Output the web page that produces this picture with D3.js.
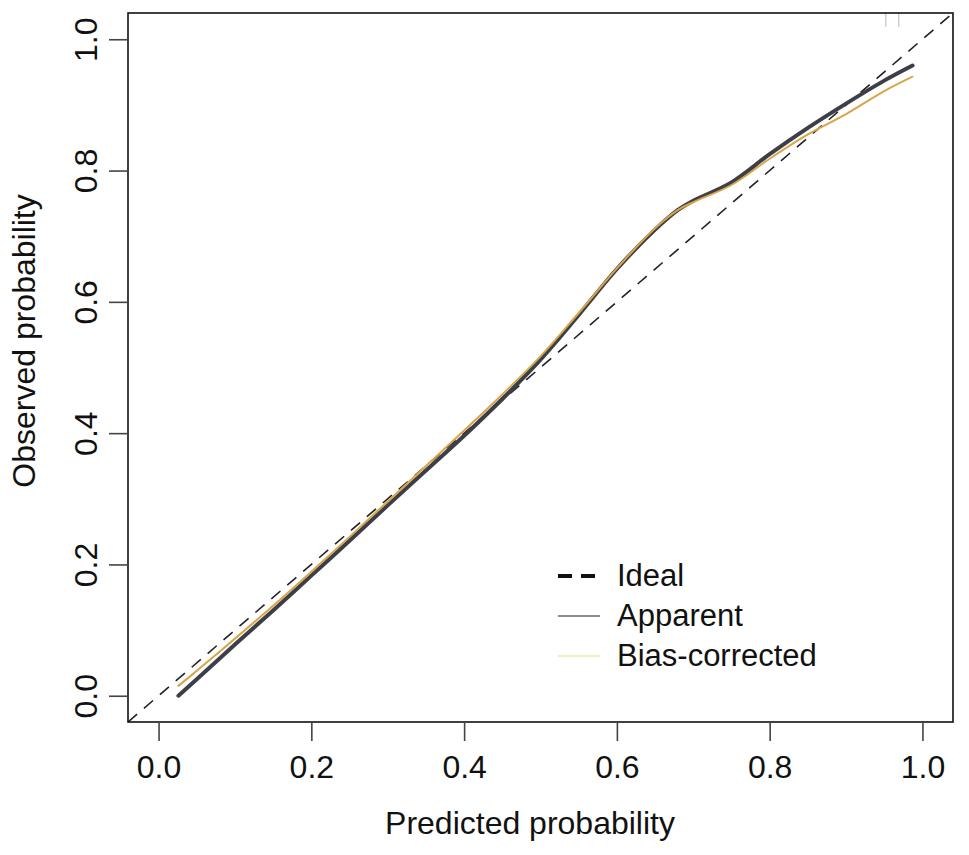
<!DOCTYPE html>
<html>
<head>
<meta charset="utf-8">
<script src="https://cdn.jsdelivr.net/npm/d3@7"></script>
<style>
  body { margin: 0; background: #fff; }
  svg { display: block; }
</style>
</head>
<body>
<div id="chart"></div>
<script>
// calibration curves
const predicted = [0.026, 0.05, 0.10, 0.15, 0.20, 0.25, 0.30, 0.35, 0.40, 0.45, 0.50, 0.55, 0.60, 0.65, 0.68, 0.70, 0.75, 0.80, 0.85, 0.90, 0.95, 0.987];
const apparent = [0.000, 0.025, 0.078, 0.130, 0.183, 0.236, 0.290, 0.343, 0.396, 0.452, 0.512, 0.580, 0.650, 0.710, 0.740, 0.754, 0.782, 0.825, 0.865, 0.902, 0.937, 0.960];
const biasCorrected = [0.015, 0.038, 0.087, 0.137, 0.189, 0.242, 0.296, 0.350, 0.404, 0.459, 0.517, 0.583, 0.651, 0.712, 0.740, 0.752, 0.778, 0.818, 0.855, 0.886, 0.921, 0.943];
const rugValues = [0.952, 0.969];
const tickValues = [0, 0.2, 0.4, 0.6, 0.8, 1.0];
const legendLabels = ["Ideal", "Apparent", "Bias-corrected"];

const width = 969, height = 855;
const box = { left: 128, right: 953, top: 13, bottom: 722 };
const font = "'Liberation Sans', Arial, Helvetica, sans-serif";

const svg = d3.select("#chart").append("svg")
  .attr("width", width)
  .attr("height", height);

const x = d3.scaleLinear().domain([-0.04, 1.04]).range([box.left, box.right]);
const y = d3.scaleLinear().domain([-0.04, 1.04]).range([box.bottom, box.top]);

svg.append("clipPath").attr("id", "clip")
  .append("rect")
  .attr("x", box.left).attr("y", box.top)
  .attr("width", box.right - box.left).attr("height", box.bottom - box.top);

const plot = svg.append("g").attr("clip-path", "url(#clip)");

// ideal diagonal
plot.append("line")
  .attr("x1", x(-0.04)).attr("y1", y(-0.04))
  .attr("x2", x(1.04)).attr("y2", y(1.04))
  .attr("stroke", "#222")
  .attr("stroke-width", 1.6)
  .attr("stroke-dasharray", "12,9");

const line = d3.line()
  .x(d => x(d[0]))
  .y(d => y(d[1]))
  .curve(d3.curveCatmullRom);

plot.append("path")
  .datum(predicted.map((p, i) => [p, apparent[i]]))
  .attr("d", line)
  .attr("fill", "none")
  .attr("stroke", "#3c3f48")
  .attr("stroke-width", 4)
  .attr("stroke-linecap", "round");

plot.append("path")
  .datum(predicted.map((p, i) => [p, biasCorrected[i]]))
  .attr("d", line)
  .attr("fill", "none")
  .attr("stroke", "#d9a548")
  .attr("stroke-width", 2)
  .attr("stroke-linecap", "round");

// rug of predictions along the top
plot.selectAll("line.rug")
  .data(rugValues)
  .join("line")
  .attr("class", "rug")
  .attr("x1", d => x(d)).attr("x2", d => x(d))
  .attr("y1", box.top).attr("y2", box.top + 14)
  .attr("stroke", "#c4c4c4")
  .attr("stroke-width", 1.2);

// box
svg.append("rect")
  .attr("x", box.left).attr("y", box.top)
  .attr("width", box.right - box.left).attr("height", box.bottom - box.top)
  .attr("fill", "none")
  .attr("stroke", "#111")
  .attr("stroke-width", 1.6);

// x axis
svg.append("g")
  .attr("transform", `translate(0,${box.bottom})`)
  .call(d3.axisBottom(x).tickValues(tickValues).tickSize(19).tickPadding(14).tickFormat(d3.format(".1f")))
  .call(g => g.select(".domain").remove())
  .call(g => g.selectAll(".tick line").attr("stroke", "#444").attr("stroke-width", 1.6))
  .call(g => g.selectAll("text")
    .attr("fill", "#111")
    .style("font-size", "32px")
    .style("font-family", font));

// y axis
svg.append("g")
  .attr("transform", `translate(${box.left},0)`)
  .call(d3.axisLeft(y).tickValues(tickValues).tickSize(19).tickPadding(0).tickFormat(d3.format(".1f")))
  .call(g => g.select(".domain").remove())
  .call(g => g.selectAll(".tick line").attr("stroke", "#444").attr("stroke-width", 1.6))
  .call(g => g.selectAll("text")
    .attr("x", null).attr("dy", null)
    .attr("transform", "translate(-31,0) rotate(-90)")
    .attr("text-anchor", "middle")
    .attr("fill", "#111")
    .style("font-size", "32px")
    .style("font-family", font));

svg.append("text")
  .attr("x", 530)
  .attr("y", 834)
  .attr("text-anchor", "middle")
  .attr("fill", "#111")
  .style("font-size", "32px")
  .style("font-family", font)
  .text("Predicted probability");

svg.append("text")
  .attr("transform", "translate(35,341) rotate(-90)")
  .attr("text-anchor", "middle")
  .attr("fill", "#111")
  .style("font-size", "32px")
  .style("font-family", font)
  .text("Observed probability");

// legend
const legendStyles = [
  { stroke: "#111", width: 4, dash: "14,9" },
  { stroke: "#666", width: 1.5, dash: null },
  { stroke: "#f2eec4", width: 2, dash: null }
];
const legend = svg.append("g").attr("transform", "translate(558,576)");
const items = legend.selectAll("g")
  .data(legendLabels)
  .join("g")
  .attr("transform", (d, i) => `translate(0,${i * 40})`);

items.append("line")
  .attr("x1", 0).attr("x2", 42)
  .attr("y1", 0).attr("y2", 0)
  .attr("stroke", (d, i) => legendStyles[i].stroke)
  .attr("stroke-width", (d, i) => legendStyles[i].width)
  .attr("stroke-dasharray", (d, i) => legendStyles[i].dash);

items.append("text")
  .attr("x", 59)
  .attr("y", 10)
  .attr("fill", "#111")
  .style("font-size", "31px")
  .style("font-family", font)
  .text(d => d);
</script>
</body>
</html>
